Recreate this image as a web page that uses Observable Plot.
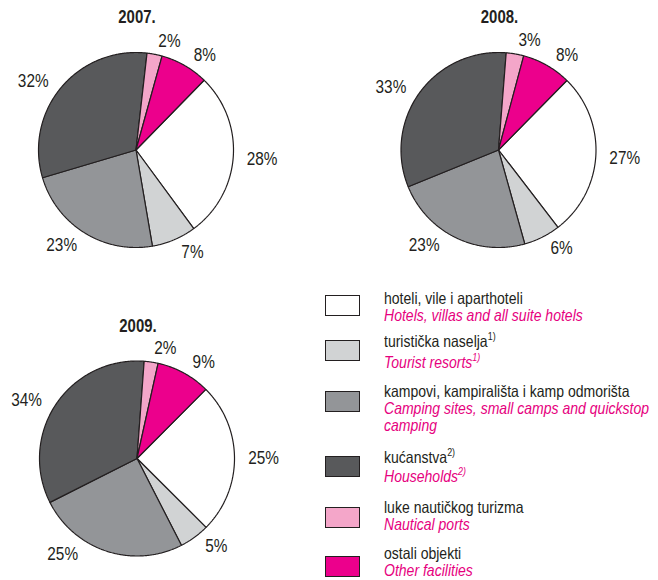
<!DOCTYPE html>
<html>
<head>
<meta charset="utf-8">
<script src="https://cdn.jsdelivr.net/npm/d3@7"></script>
<script src="https://cdn.jsdelivr.net/npm/@observablehq/plot@0.6"></script>
<style>
  body { margin: 0; background: #fff; }
  #wrap { position: relative; width: 658px; height: 580px; overflow: hidden;
          font-family: "Liberation Sans", Arial, sans-serif; }
  #wrap svg { position: absolute; left: 0; top: 0; }
  .sw { position: absolute; left: 325px; width: 35px; height: 21px; box-sizing: border-box; border: 1.5px solid #231f20; }
  .lt { position: absolute; left: 384px; font-size: 16.5px; line-height: 17px; color: #231f20; white-space: nowrap;
        transform: scaleX(0.85); transform-origin: 0 0; }
  .lt .en { display: block; color: #e6007e; font-style: italic; }
  .lt sup { font-size: 10.5px; line-height: 0; vertical-align: 7px; }
</style>
</head>
<body>
<div id="wrap"></div>
<script>
// ---- data ----
const categoriesHr = ["hoteli, vile i aparthoteli", "turistička naselja", "kampovi, kampirališta i kamp odmorišta", "kućanstva", "luke nautičkog turizma", "ostali objekti"];
const categoriesEn = ["Hotels, villas and all suite hotels", "Tourist resorts", "Camping sites, small camps and quickstop camping", "Households", "Nautical ports", "Other facilities"];
const footnotes = ["", "1)", "", "2)", "", ""];
const years = ["2007.", "2008.", "2009."];
const shares2007 = [27.6, 7.4, 23.1, 31.4, 2.5, 8.0];
const shares2008 = [27.2, 6.1, 23.2, 32.4, 2.9, 8.2];
const shares2009 = [25.0, 5.0, 25.1, 33.6, 2.3, 9.0];
const labels2007 = ["28%", "7%", "23%", "32%", "2%", "8%"];
const labels2008 = ["27%", "6%", "23%", "33%", "3%", "8%"];
const labels2009 = ["25%", "5%", "25%", "34%", "2%", "9%"];

// ---- styles / layout ----
const colors = ["#ffffff", "#d1d3d4", "#939598", "#58595b", "#f4a6c9", "#ec008c"];
const pies = [
  {year: years[0], shares: shares2007, labels: labels2007, cx: 135.5, cy: 149.5, start: 44.3},
  {year: years[1], shares: shares2008, labels: labels2008, cx: 498, cy: 149.5, start: 44.5},
  {year: years[2], shares: shares2009, labels: labels2009, cx: 136.5, cy: 458, start: 44.9}
];
const R = 97.5;
const deg = Math.PI / 180;

// label angle: keep labels clear of the vertical axis
function labelAngle(midDeg, share) {
  const a = ((midDeg % 360) + 360) % 360;
  const q = Math.floor(a / 90);
  const d = (q === 0 || q === 2) ? a - q * 90 : (q + 1) * 90 - a; // distance from vertical
  let d2 = d >= 84 ? d : Math.min(90, d + 6);
  if (share >= 20) d2 = Math.max(d2, 38);
  if (q === 0) return d2;
  if (q === 1) return 180 - d2;
  if (q === 2) return 180 + d2;
  return 360 - d2;
}

const slices = [], labelPts = [], titles = [];
pies.forEach((p, pi) => {
  const arcs = d3.pie().sort(null).value(d => d)
    .startAngle(p.start * deg).endAngle(p.start * deg + 2 * Math.PI)(p.shares);
  arcs.forEach((a, i) => {
    const key = pi + "-" + i;
    const n = Math.max(2, Math.ceil((a.endAngle - a.startAngle) / (0.5 * deg)));
    slices.push({key, x: p.cx, y: p.cy, color: colors[i]});
    for (let k = 0; k <= n; k++) {
      const t = a.startAngle + (a.endAngle - a.startAngle) * k / n;
      slices.push({key, x: p.cx + R * Math.sin(t), y: p.cy - R * Math.cos(t), color: colors[i]});
    }
    slices.push({key, x: p.cx, y: p.cy, color: colors[i]});
    const la = labelAngle((a.startAngle + a.endAngle) / 2 / deg, p.shares[i]) * deg;
    const w = p.labels[i].length * 10;
    const rl = R + 14 + (w / 2) * Math.abs(Math.sin(la));
    labelPts.push({x: p.cx + rl * Math.sin(la), y: p.cy - rl * Math.cos(la), text: p.labels[i]});
  });
  titles.push({x: p.cx + 1, y: p.cy - 132.5, text: p.year});
});

const font = "'Liberation Sans', Arial, sans-serif";
const chart = Plot.plot({
  width: 658, height: 580, margin: 0,
  x: {domain: [0, 658], axis: null},
  y: {domain: [0, 580], reverse: true, axis: null},
  color: {type: "identity"},
  style: {background: "transparent"},
  marks: [
    Plot.line(slices, {x: "x", y: "y", z: "key", fill: "color", stroke: "#231f20", strokeWidth: 1.2, strokeLinejoin: "miter", curve: "linear"}),
    Plot.text(labelPts, {x: "x", y: "y", text: "text", fontSize: 18.5, fontFamily: font, fill: "#231f20"}),
    Plot.text(titles, {x: "x", y: "y", text: "text", fontSize: 18, fontWeight: "bold", fontFamily: font, fill: "#231f20"})
  ]
});
// condense the text horizontally (narrow typeface look)
d3.select(chart).selectAll("g[aria-label=text] text").each(function () {
  const el = d3.select(this);
  const tr = el.attr("transform");
  if (tr) {
    el.attr("transform", tr + " scale(0.83,1)");
  } else {
    const x = +el.attr("x") || 0, y = +el.attr("y") || 0;
    el.attr("x", null).attr("y", null).attr("transform", `translate(${x},${y}) scale(0.83,1)`);
  }
});
const wrap = document.getElementById("wrap");
wrap.appendChild(chart);

// ---- legend (HTML) ----
const swatchTops = [294.5, 340, 391, 456, 506.5, 555.5];
const textTops = [289.5, 333, 382.5, 449, 498.5, 545];
const secondLineGap = [0, 4, 0, 1.5, 0, 0];
categoriesHr.forEach((hr, i) => {
  const sw = document.createElement("div");
  sw.className = "sw";
  sw.style.top = swatchTops[i] + "px";
  sw.style.background = colors[i];
  wrap.appendChild(sw);
  const t = document.createElement("div");
  t.className = "lt";
  t.style.top = textTops[i] + "px";
  const fn = footnotes[i] ? "<sup>" + footnotes[i] + "</sup>" : "";
  let en = categoriesEn[i];
  if (i === 2) en = "Camping sites, small camps and quickstop<br>camping";
  t.innerHTML = hr + fn + "<span class='en' style='margin-top:" + secondLineGap[i] + "px'>" + en + fn + "</span>";
  wrap.appendChild(t);
});
</script>
</body>
</html>
